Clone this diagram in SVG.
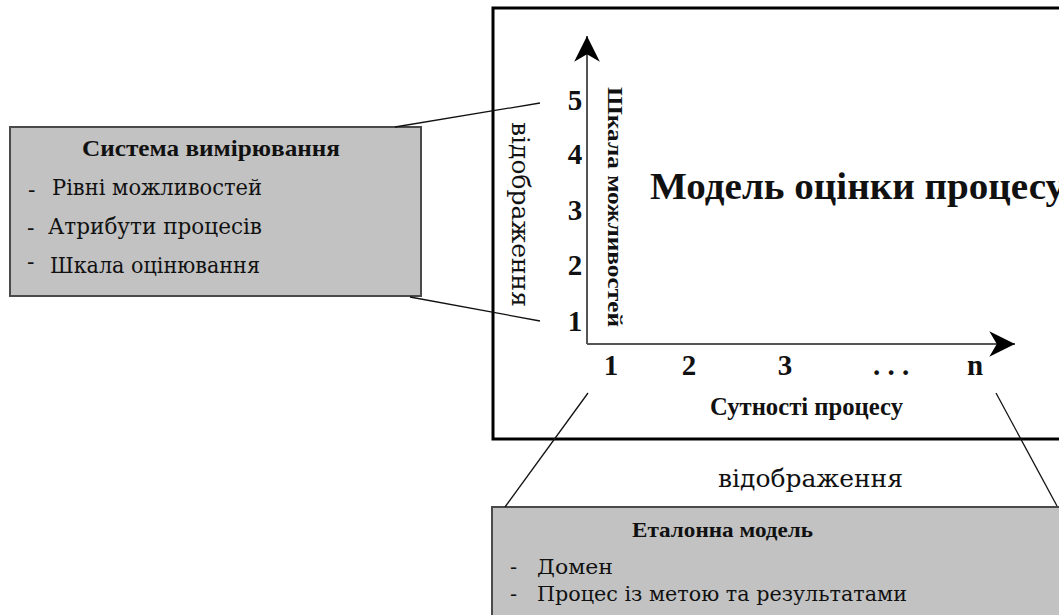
<svg xmlns="http://www.w3.org/2000/svg" width="1059" height="615" viewBox="0 0 1059 615">
  <style>
    .serif { font-family: "Liberation Serif", "DejaVu Serif", serif; fill: #111; }
    .plain { font-family: "DejaVu Serif", "Liberation Serif", serif; fill: #111; }
    .bold { font-weight: bold; }
    .panel { fill: #c2c2c2; stroke: #4a4a4a; stroke-width: 2; }
    .frame { fill: #ffffff; stroke: #000; stroke-width: 3; }
    .axis { stroke: #555; stroke-width: 2; fill: none; }
    .link { stroke: #111; stroke-width: 1.3; fill: none; }
  </style>
  <defs>
    <marker id="arrow" markerUnits="userSpaceOnUse" markerWidth="30" markerHeight="30" refX="0" refY="0" viewBox="-26 -14 28 28" orient="auto">
      <path d="M0,0 L-24,-12 L-17,0 L-24,12 Z" fill="#000"/>
    </marker>
  </defs>

  <rect width="1059" height="615" fill="#fff"/>

  <!-- assessment model frame (runs past the right edge) -->
  <g id="process-assessment-model">
    <rect class="frame" x="493" y="8" width="600" height="431"/>
    <text class="serif bold" x="650" y="199" font-size="38" textLength="415" lengthAdjust="spacingAndGlyphs">Модель оцінки процесу</text>
  </g>

  <!-- capability axis and process axis -->
  <g id="axes">
    <line class="axis" x1="587" y1="344" x2="587" y2="36" marker-end="url(#arrow)"/>
    <line class="axis" x1="587" y1="344" x2="1015" y2="344" marker-end="url(#arrow)"/>
    <g class="serif bold" font-size="29" text-anchor="middle">
      <text x="575" y="110">5</text>
      <text x="575" y="164">4</text>
      <text x="575" y="220">3</text>
      <text x="575" y="275">2</text>
      <text x="575" y="331">1</text>
      <text x="611" y="375">1</text>
      <text x="689" y="375">2</text>
      <text x="785" y="375">3</text>
      <text x="891" y="375">. . .</text>
      <text x="975" y="375">n</text>
    </g>
    <text class="serif bold" font-size="22" transform="translate(608,87) rotate(90)" textLength="240" lengthAdjust="spacingAndGlyphs">Шкала можливостей</text>
    <text class="serif bold" x="710" y="415" font-size="25" textLength="193" lengthAdjust="spacingAndGlyphs">Сутності процесу</text>
  </g>

  <!-- measurement framework -->
  <g id="measurement-framework">
    <rect class="panel" x="10" y="127" width="411" height="169"/>
    <text class="serif bold" x="82" y="156" font-size="24" textLength="258" lengthAdjust="spacingAndGlyphs">Система вимірювання</text>
    <g class="plain" font-size="22">
      <text x="28" y="197">-</text>
      <text x="52" y="195" textLength="210" lengthAdjust="spacingAndGlyphs">Рівні можливостей</text>
      <text x="27" y="235">-</text>
      <text x="48" y="234" textLength="214" lengthAdjust="spacingAndGlyphs">Атрибути процесів</text>
      <text x="27" y="269">-</text>
      <text x="50" y="273" textLength="210" lengthAdjust="spacingAndGlyphs">Шкала оцінювання</text>
    </g>
  </g>

  <!-- process reference model (runs past the right and bottom edges) -->
  <g id="process-reference-model">
    <rect class="panel" x="492" y="507" width="600" height="140"/>
    <text class="serif bold" x="632" y="537" font-size="22" textLength="181" lengthAdjust="spacingAndGlyphs">Еталонна модель</text>
    <g class="plain" font-size="21">
      <text x="510" y="574">-</text>
      <text x="537" y="574" textLength="76" lengthAdjust="spacingAndGlyphs">Домен</text>
      <text x="510" y="601">-</text>
      <text x="537" y="601" textLength="370" lengthAdjust="spacingAndGlyphs">Процес із метою та результатами</text>
    </g>
  </g>

  <!-- mapping connectors -->
  <g id="connectors">
    <line class="link" x1="395" y1="127" x2="540" y2="103"/>
    <line class="link" x1="410" y1="297" x2="540" y2="321"/>
    <line class="link" x1="588" y1="393" x2="505" y2="507"/>
    <line class="link" x1="996" y1="393" x2="1057" y2="506"/>
    <text class="plain" font-size="25" transform="translate(512,122) rotate(90)" textLength="185" lengthAdjust="spacingAndGlyphs">відображення</text>
    <text class="plain" x="718" y="487" font-size="25" textLength="185" lengthAdjust="spacingAndGlyphs">відображення</text>
  </g>
</svg>
